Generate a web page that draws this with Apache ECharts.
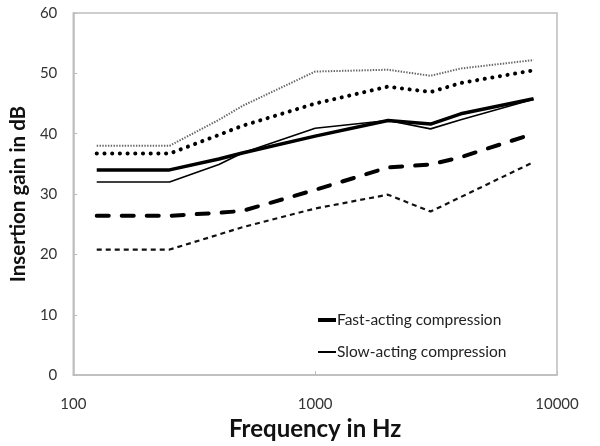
<!DOCTYPE html>
<html>
<head>
<meta charset="utf-8">
<script src="https://cdn.jsdelivr.net/npm/echarts@6/dist/echarts.min.js"></script>
<style>html,body{margin:0;padding:0;background:#fff}#c{width:600px;height:446px}</style>
</head>
<body>
<div id="c"></div>
<script>
var frequencies = [125, 250, 400, 500, 1000, 2000, 3000, 4000, 8000];
var fastMean  = [34.0, 34.0, 35.8, 36.8, 39.6, 42.2, 41.6, 43.3, 45.8];
var slowMean  = [32.0, 32.0, 34.9, 36.8, 40.9, 42.2, 40.8, 42.3, 45.7];
var fastUpper = [36.7, 36.7, 39.8, 41.3, 45.0, 47.8, 46.9, 48.4, 50.5];
var slowUpper = [38.0, 38.0, 42.3, 44.6, 50.3, 50.6, 49.6, 50.8, 52.2];
var fastLower = [26.4, 26.4, 26.9, 27.2, 30.7, 34.4, 34.9, 36.1, 40.0];
var slowLower = [20.8, 20.8, 23.3, 24.5, 27.6, 29.9, 27.1, 29.5, 35.3];
var yTicks = [0, 10, 20, 30, 40, 50, 60];
var xTicks = [100, 1000, 10000];

function pairs(vals){ return frequencies.map(function(f,i){ return [f, vals[i]]; }); }

var font = 'Lato, "Open Sans", sans-serif';
function legendBox(name, top, h){
  return {
    data:[{name:name, icon:'rect'}],
    orient:'vertical', left:313, top:top,
    itemWidth:18, itemHeight:h, itemGap:0,
    textStyle:{fontFamily:font, fontSize:15.5, color:'#222', padding:[0,0,0,-4]}
  };
}
var chart = echarts.init(document.getElementById('c'), null, {renderer:'canvas'});
chart.setOption({
  animation:false,
  backgroundColor:'#fff',
  grid:{left:72, right:43, top:13, bottom:68, show:true, borderColor:'#bdbdbd', borderWidth:1.5},
  legend:[legendBox('Fast-acting compression', 307, 4), legendBox('Slow-acting compression', 339, 2)],
  xAxis:{
    type:'log', logBase:10, min:xTicks[0], max:xTicks[xTicks.length-1],
    name:'Frequency in Hz', nameLocation:'middle', nameGap:41,
    nameTextStyle:{fontFamily:font, fontSize:24, fontWeight:'bold', color:'#111'},
    axisLine:{show:true, lineStyle:{color:'#bdbdbd', width:1.5}},
    axisTick:{show:true, inside:true, length:4, lineStyle:{color:'#bdbdbd'}},
    minorTick:{show:false},
    splitLine:{show:false},
    axisLabel:{fontFamily:font, fontSize:15, color:'#333', margin:22,
      formatter:function(v){ return String(Math.round(v)); }}
  },
  yAxis:{
    type:'value', min:yTicks[0], max:yTicks[yTicks.length-1], interval:10,
    name:'Insertion gain in dB', nameLocation:'middle', nameGap:33,
    nameTextStyle:{fontFamily:font, fontSize:20.5, fontWeight:'bold', color:'#111'},
    axisLine:{show:true, lineStyle:{color:'#bdbdbd', width:1.5}},
    axisTick:{show:true, inside:true, length:4, lineStyle:{color:'#bdbdbd'}},
    splitLine:{show:false},
    axisLabel:{fontFamily:font, fontSize:15, color:'#333', margin:16}
  },
  series:[
    {name:'Fast-acting compression', type:'line', data:pairs(fastMean), symbol:'none',
     lineStyle:{color:'#000', width:3.5}, itemStyle:{color:'#000'}, z:5},
    {name:'Slow-acting compression', type:'line', data:pairs(slowMean), symbol:'none',
     lineStyle:{color:'#000', width:1.6}, itemStyle:{color:'#000'}, z:4},
    {name:'Fast upper', type:'line', data:pairs(fastUpper), symbol:'none',
     lineStyle:{color:'#000', width:4, type:[0.1,7.6], cap:'round'}},
    {name:'Slow upper', type:'line', data:pairs(slowUpper), symbol:'none',
     lineStyle:{color:'#666', width:2, type:[1.4,1.4]}},
    {name:'Fast lower', type:'line', data:pairs(fastLower), symbol:'none',
     lineStyle:{color:'#000', width:4, type:[12,13], cap:'round'}},
    {name:'Slow lower', type:'line', data:pairs(slowLower), symbol:'none',
     lineStyle:{color:'#111', width:2.2, type:[5,4]}}
  ]
});
</script>
</body>
</html>
